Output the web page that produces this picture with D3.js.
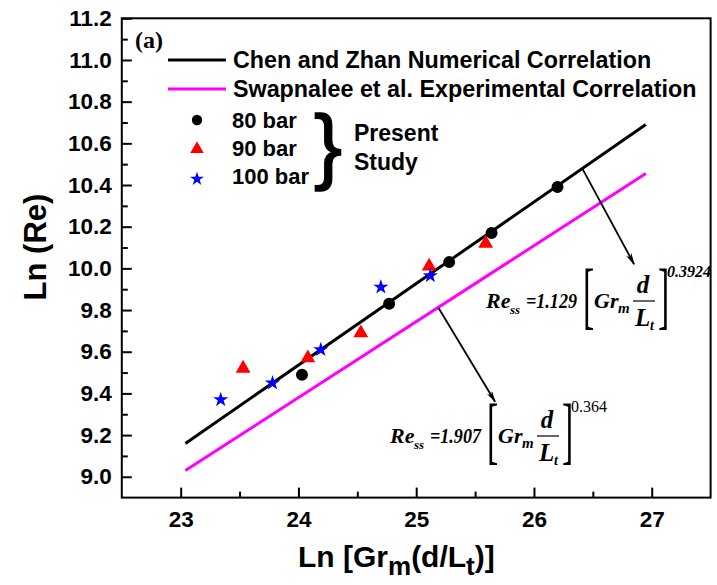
<!DOCTYPE html>
<html><head><meta charset="utf-8">
<script src="https://cdn.jsdelivr.net/npm/d3@7"></script>
<style>
body{margin:0;background:#fff;}
text{font-family:"Liberation Sans",Arial,sans-serif;}
.serif{font-family:"Liberation Serif","Times New Roman",serif;}
</style></head>
<body>
<svg id="chart" width="717" height="585"></svg>
<script>
// ---- data ----
const xTicks = [23, 24, 25, 26, 27];
const xMinorTicks = [23.5, 24.5, 25.5, 26.5];
const yTicks = [9.0, 9.2, 9.4, 9.6, 9.8, 10.0, 10.2, 10.4, 10.6, 10.8, 11.0, 11.2];
const yMinorTicks = [9.1, 9.3, 9.5, 9.7, 9.9, 10.1, 10.3, 10.5, 10.7, 10.9, 11.1];
const chenLine = [[23.04, 9.16], [26.95, 10.69]];
const swapnaleeLine = [[23.04, 9.03], [26.95, 10.455]];
const bar80 = [[24.03, 9.49], [24.77, 9.83], [25.28, 10.03], [25.64, 10.17], [26.20, 10.39]];
const bar90 = [[23.53, 9.52], [24.08, 9.57], [24.53, 9.69], [25.11, 10.01], [25.59, 10.12]];
const bar100 = [[23.34, 9.37], [23.78, 9.45], [24.19, 9.61], [24.70, 9.91], [25.12, 9.965]];
const arrowChen = [[26.41, 10.48], [26.85, 10.02]];
const arrowSwap = [[25.19, 9.81], [25.67, 9.36]];

// ---- chart ----
const svg = d3.select("#chart");
svg.append("rect").attr("width",717).attr("height",585).attr("fill","#fff");
const x = d3.scaleLinear().domain([22.5, 27.5]).range([121.8, 710.6]);
const y = d3.scaleLinear().domain([8.9, 11.2]).range([497.6, 18.3]);

const fmtY = d3.format(".1f");
svg.append("g").attr("transform", `translate(0,${y(8.9)})`)
  .call(d3.axisBottom(x).tickValues(xTicks).tickFormat(d3.format("d")).tickSize(-10).tickSizeOuter(0).tickPadding(13));
svg.append("g").attr("transform", `translate(0,${y(8.9)})`)
  .call(d3.axisBottom(x).tickValues(xMinorTicks).tickFormat("").tickSize(-6).tickSizeOuter(0));
svg.append("g").attr("transform", `translate(${x(22.5)},0)`)
  .call(d3.axisLeft(y).tickValues(yTicks).tickFormat(fmtY).tickSize(-10).tickSizeOuter(0).tickPadding(10));
svg.append("g").attr("transform", `translate(${x(22.5)},0)`)
  .call(d3.axisLeft(y).tickValues(yMinorTicks).tickFormat("").tickSize(-6).tickSizeOuter(0));
svg.selectAll(".domain").remove();
svg.selectAll(".tick line").attr("stroke","#000").attr("stroke-width",2);
svg.selectAll(".tick text").attr("font-family","Liberation Sans, Arial, sans-serif")
  .attr("font-size",22.5).attr("font-weight","bold").attr("fill","#000");

// frame
svg.append("rect").attr("x",x(22.5)).attr("y",y(11.2))
  .attr("width",x(27.5)-x(22.5)).attr("height",y(8.9)-y(11.2))
  .attr("fill","none").attr("stroke","#000").attr("stroke-width",2);

// axis titles
svg.append("text").attr("transform","translate(46,247) rotate(-90)")
  .attr("text-anchor","middle").attr("font-size",31).attr("font-weight","bold").text("Ln (Re)");
const xt = svg.append("text").attr("x",298).attr("y",567).attr("font-size",30).attr("font-weight","bold");
xt.append("tspan").text("Ln [Gr");
xt.append("tspan").attr("font-size",26).attr("dy",8).text("m");
xt.append("tspan").attr("dy",-8).text("(d/L");
xt.append("tspan").attr("font-size",26).attr("dy",8).text("t");
xt.append("tspan").attr("dy",-8).text(")]");

// lines
const line = d3.line().x(d=>x(d[0])).y(d=>y(d[1]));
svg.append("path").datum(chenLine).attr("d",line).attr("stroke","#000").attr("stroke-width",3).attr("fill","none");
svg.append("path").datum(swapnaleeLine).attr("d",line).attr("stroke","#ff00ff").attr("stroke-width",3).attr("fill","none");

// markers
const symCircle = d3.symbol(d3.symbolCircle, 113);
const symTri = d3.symbol(d3.symbolTriangle, 95);
const symStar = d3.symbol(d3.symbolStar, 72);
svg.append("g").selectAll("path").data(bar80).join("path")
  .attr("d",symCircle).attr("transform",d=>`translate(${x(d[0])},${y(d[1])})`).attr("fill","#000");
svg.append("g").selectAll("path").data(bar90).join("path")
  .attr("d",symTri).attr("transform",d=>`translate(${x(d[0])},${y(d[1])})`).attr("fill","#ff0000");
svg.append("g").selectAll("path").data(bar100).join("path")
  .attr("d",symStar).attr("transform",d=>`translate(${x(d[0])},${y(d[1])})`).attr("fill","#0000ff");

// arrows
const defs = svg.append("defs");
defs.append("marker").attr("id","ah").attr("viewBox","0 0 12 6").attr("refX",11).attr("refY",3)
  .attr("markerWidth",12).attr("markerHeight",6).attr("markerUnits","userSpaceOnUse").attr("orient","auto")
  .append("path").attr("d","M0,0 L12,3 L0,6 L3,3 Z").attr("fill","#000");
[arrowChen, arrowSwap].forEach(a=>{
  svg.append("line").attr("x1",x(a[0][0])).attr("y1",y(a[0][1])).attr("x2",x(a[1][0])).attr("y2",y(a[1][1]))
    .attr("stroke","#000").attr("stroke-width",1.8).attr("marker-end","url(#ah)");
});

// (a)
svg.append("text").attr("class","serif").attr("x",135).attr("y",48).attr("font-size",24).attr("font-weight","bold").text("(a)");

// legend
const leg = svg.append("g");
leg.append("line").attr("x1",168).attr("x2",226).attr("y1",60).attr("y2",60).attr("stroke","#000").attr("stroke-width",3);
leg.append("line").attr("x1",168).attr("x2",226).attr("y1",89).attr("y2",89).attr("stroke","#ff00ff").attr("stroke-width",3);
leg.append("text").attr("x",233).attr("y",68).attr("font-size",23.3).attr("font-weight","bold").text("Chen and Zhan Numerical Correlation");
leg.append("text").attr("x",233).attr("y",97).attr("font-size",23.3).attr("font-weight","bold").text("Swapnalee et al. Experimental Correlation");
leg.append("path").attr("d",d3.symbol(d3.symbolCircle,85)).attr("transform","translate(197,120)").attr("fill","#000");
leg.append("path").attr("d",d3.symbol(d3.symbolTriangle,80)).attr("transform","translate(197,149)").attr("fill","#ff0000");
leg.append("path").attr("d",d3.symbol(d3.symbolStar,60)).attr("transform","translate(197,179)").attr("fill","#0000ff");
leg.append("text").attr("x",232).attr("y",128).attr("font-size",22).attr("font-weight","bold").text("80 bar");
leg.append("text").attr("x",232).attr("y",156).attr("font-size",22).attr("font-weight","bold").text("90 bar");
leg.append("text").attr("x",232).attr("y",184).attr("font-size",22).attr("font-weight","bold").text("100 bar");
leg.append("text").attr("x",314).attr("y",174).attr("font-size",84).attr("font-weight","normal")
  .attr("stroke","#000").attr("stroke-width",1.5).text("}");
leg.append("text").attr("x",354).attr("y",141).attr("font-size",23).attr("font-weight","bold").text("Present");
leg.append("text").attr("x",354).attr("y",170).attr("font-size",23).attr("font-weight","bold").text("Study");

// equations
function equation(x0, y0, coef, expo, expoStyle){
  const g = svg.append("g").attr("transform",`translate(${x0},${y0})`);
  const bi = sel => sel.attr("class","serif").attr("font-weight","bold").attr("font-style","italic");
  bi(g.append("text")).attr("x",0).attr("font-size",22).text("Re");
  bi(g.append("text")).attr("x",24).attr("y",6).attr("font-size",13).text("ss");
  bi(g.append("text")).attr("x",40).attr("font-size",21)
    .attr("textLength",51).attr("lengthAdjust","spacingAndGlyphs").text("=" + coef);
  const bracket = (bx, ch)=> g.append("g").attr("transform",`translate(${bx},12) scale(0.45,1)`)
     .append("text").attr("class","serif").attr("font-size",75).text(ch);
  bracket(97, "[");
  bi(g.append("text")).attr("x",108).attr("font-size",22).text("Gr");
  bi(g.append("text")).attr("x",132).attr("y",5).attr("font-size",15).text("m");
  bi(g.append("text")).attr("x",157).attr("y",-15).attr("text-anchor","middle").attr("font-size",25).text("d");
  g.append("line").attr("x1",147).attr("x2",169).attr("y1",-7).attr("y2",-7).attr("stroke","#000").attr("stroke-width",1.2);
  bi(g.append("text")).attr("x",149).attr("y",18).attr("font-size",25).text("L");
  bi(g.append("text")).attr("x",164).attr("y",22).attr("font-size",14).text("t");
  bracket(172, "]");
  g.append("text").attr("class","serif").attr("x",181).attr("y",-31)
    .attr("font-weight", expoStyle ? "bold":"normal").attr("font-style", expoStyle ? "italic":"normal")
    .attr("font-size",16).text(expo);
}
equation(486, 308, "1.129", "0.3924", true);
equation(390, 443, "1.907", "0.364", false);
</script>
</body></html>
